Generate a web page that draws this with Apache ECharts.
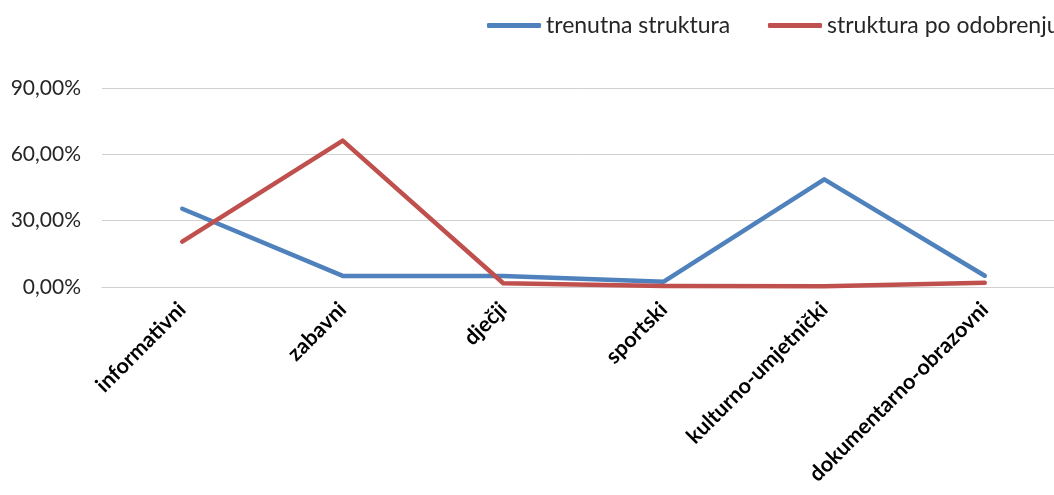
<!DOCTYPE html>
<html>
<head>
<meta charset="utf-8">
<script src="https://cdn.jsdelivr.net/npm/echarts@6/dist/echarts.min.js"></script>
<style>
  html, body { margin: 0; padding: 0; background: #fff; }
  #chart { width: 1054px; height: 495px; }
</style>
</head>
<body>
<div id="chart"></div>
<script>
// kategorije programa
var categories = ['informativni', 'zabavni', 'dječji', 'sportski', 'kulturno-umjetnički', 'dokumentarno-obrazovni'];
// vrijednosti u postocima
var trenutna = [35.4, 5.0, 5.0, 2.4, 48.7, 5.1];
var poOdobrenju = [20.5, 66.2, 1.7, 0.5, 0.3, 1.9];
var yTicks = [0, 30, 60, 90];

var chart = echarts.init(document.getElementById('chart'));

// zajednički stil legende
var legendBase = {
  top: 9,
  icon: 'roundRect',
  itemWidth: 54,
  itemHeight: 5,
  textStyle: { color: '#262626', fontSize: 23, fontFamily: 'Lato' }
};

var option = {
  animation: false,
  color: ['#4F81BD', '#C0504D'],
  textStyle: { fontFamily: 'Lato' },
  legend: [
    Object.assign({}, legendBase, { left: 482, data: ['trenutna struktura'] }),
    Object.assign({}, legendBase, { left: 763, data: ['struktura po odobrenju'] })
  ],
  grid: {
    left: 102,
    width: 963,
    top: 88,
    bottom: 208,
    outerBoundsMode: 'none'
  },
  xAxis: {
    type: 'category',
    data: categories,
    boundaryGap: true,
    axisTick: { show: false },
    axisLine: { show: true, lineStyle: { color: '#d0d0d0', width: 1 } },
    axisLabel: {
      rotate: 45,
      interval: 0,
      margin: 19,
      color: '#000',
      fontSize: 21.5,
      fontWeight: 'bold',
      fontFamily: 'Lato'
    }
  },
  yAxis: {
    type: 'value',
    min: yTicks[0],
    max: yTicks[yTicks.length - 1],
    interval: 30,
    axisLine: { show: false },
    axisTick: { show: false },
    axisLabel: {
      margin: 21,
      color: '#262626',
      fontSize: 21,
      fontFamily: 'Lato',
      formatter: function (v) {
        return v.toFixed(2).replace('.', ',') + '%';
      }
    },
    splitLine: { lineStyle: { color: '#d0d0d0', width: 1 } }
  },
  series: [
    {
      name: 'trenutna struktura',
      type: 'line',
      symbol: 'none',
      lineStyle: { width: 4.5, cap: 'round', join: 'round' },
      data: trenutna
    },
    {
      name: 'struktura po odobrenju',
      type: 'line',
      symbol: 'none',
      lineStyle: { width: 4.5, cap: 'round', join: 'round' },
      data: poOdobrenju
    }
  ]
};

chart.setOption(option);
</script>
</body>
</html>
